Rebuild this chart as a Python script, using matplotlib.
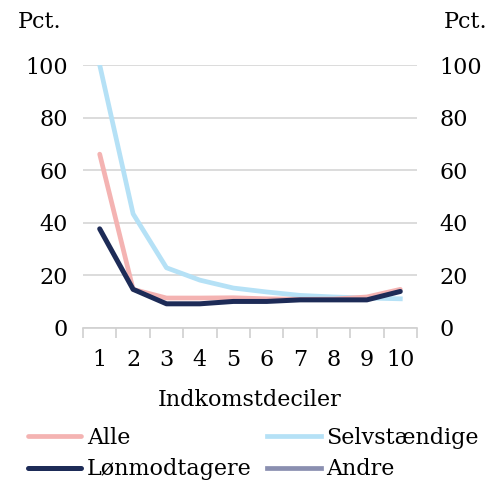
import matplotlib.pyplot as plt
import numpy as np

deciler = [1, 2, 3, 4, 5, 6, 7, 8, 9, 10]
alle = [66.1, 14.7, 11.4, 11.4, 11.5, 11.1, 10.9, 11.0, 11.8, 14.7]
selvstaendige = [100.0, 43.4, 22.9, 18.2, 15.2, 13.7, 12.4, 11.8, 11.4, 11.1]
loenmodtagere = [37.7, 14.7, 9.2, 9.2, 10.1, 10.1, 10.7, 10.7, 10.7, 13.9]
andre = [np.nan] * 10
yticks = [0, 20, 40, 60, 80, 100]

plt.rcParams['font.family'] = ['DejaVu Serif']
fs = 16

fig = plt.figure(figsize=(4.89, 4.82), dpi=100)
ax = fig.add_axes([83 / 489, 1 - 328 / 482, 334 / 489, 263 / 482])

ax.plot(deciler, andre, color='#8a8fb0', lw=3.4, label='Andre')
ax.plot(deciler, selvstaendige, color='#b5e1f6', lw=3.4, label='Selvstændige')
ax.plot(deciler, alle, color='#f4b3b2', lw=3.4, label='Alle', solid_capstyle='round')
ax.plot(deciler, loenmodtagere, color='#1d2b57', lw=3.6, label='Lønmodtagere',
        solid_capstyle='round')

ax.set_xlim(0.5, 10.5)
ax.set_ylim(0, 100)
ax.set_yticks(yticks)
ax.set_yticklabels([str(t) for t in yticks], fontsize=fs)
ax.grid(axis='y', color='#d9d9d9', lw=1.3)
ax.set_axisbelow(True)
ax.tick_params(axis='y', length=0, pad=11)

ax.set_xticks(deciler)
ax.set_xticklabels([str(d) for d in deciler], fontsize=fs)
ax.set_xticks(np.arange(0.5, 11, 1), minor=True)
ax.tick_params(axis='x', which='major', length=0, pad=15)
ax.tick_params(axis='x', which='minor', length=7, color='#d0d0d0', width=1.2)
ax.set_xlabel('Indkomstdeciler', fontsize=fs, labelpad=13)

for s in ['top', 'left', 'right']:
    ax.spines[s].set_visible(False)
ax.spines['bottom'].set_color('#d0d0d0')
ax.spines['bottom'].set_linewidth(1.2)

ax2 = ax.twinx()
ax2.set_ylim(0, 100)
ax2.set_yticks(yticks)
ax2.set_yticklabels([str(t) for t in yticks], fontsize=fs)
ax2.tick_params(axis='y', length=0, pad=16)
for s in ax2.spines.values():
    s.set_visible(False)

fig.text(40 / 489, 1 - 22 / 482, 'Pct.', fontsize=fs, ha='center', va='center')
fig.text(487 / 489, 1 - 22 / 482, 'Pct.', fontsize=fs, ha='right', va='center')

h, l = ax.get_legend_handles_labels()
names = ['Alle', 'Lønmodtagere', 'Selvstændige', 'Andre']
fig.legend([h[l.index(n)] for n in names], names, ncol=2,
           loc='upper left', bbox_to_anchor=(28 / 489, 1 - 427 / 482), frameon=False,
           fontsize=fs, handlelength=2.4, handletextpad=0.25, columnspacing=0.7,
           labelspacing=0.42, borderaxespad=0, borderpad=0)

fig.savefig('out.png', dpi=100)
